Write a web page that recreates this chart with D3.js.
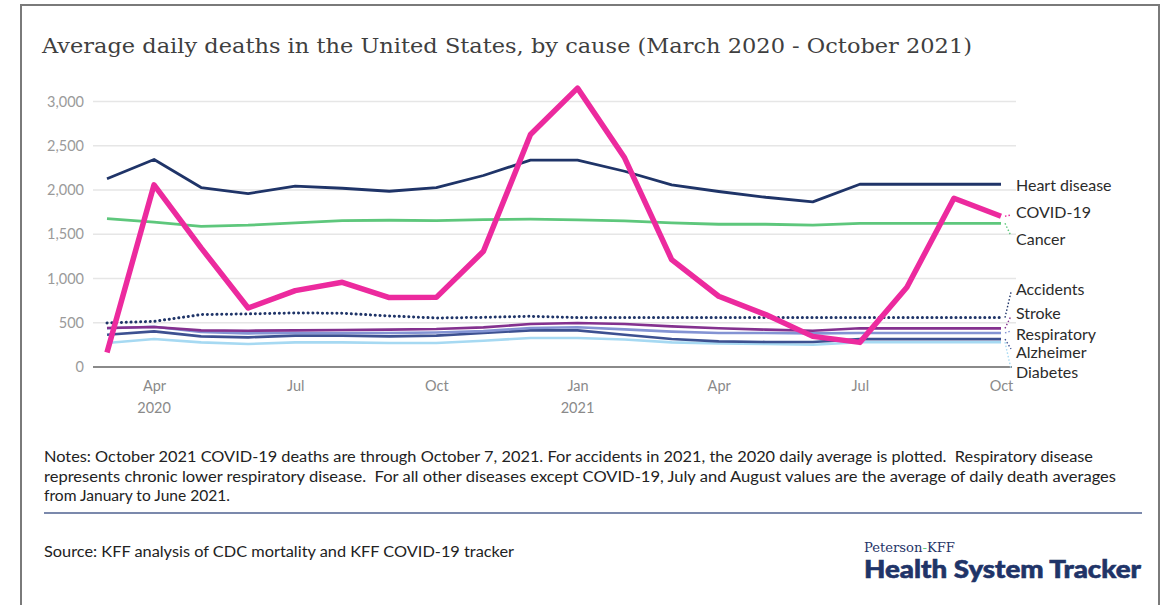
<!DOCTYPE html>
<html>
<head>
<meta charset="utf-8">
<script src="https://cdn.jsdelivr.net/npm/d3@7"></script>
<style>
  html, body { margin: 0; padding: 0; background: #fff; }
  svg { display: block; }
</style>
</head>
<body>
<svg id="chart" width="1170" height="605"></svg>
<script>
// Monthly averages, March 2020 through October 2021
const months = ["2020-03","2020-04","2020-05","2020-06","2020-07","2020-08","2020-09","2020-10","2020-11","2020-12",
                "2021-01","2021-02","2021-03","2021-04","2021-05","2021-06","2021-07","2021-08","2021-09","2021-10"];

const heartDisease = [2127, 2345, 2028, 1960, 2043, 2020, 1986, 2028, 2164, 2337, 2337, 2212, 2058, 1983, 1918, 1866, 2065, 2065, 2065, 2065];
const covid19      = [165, 2058, 1346, 667, 863, 957, 784, 787, 1307, 2627, 3151, 2364, 1214, 799, 592, 346, 278, 901, 1907, 1704];
const cancer       = [1677, 1636, 1590, 1602, 1629, 1655, 1658, 1655, 1666, 1670, 1663, 1651, 1629, 1613, 1613, 1602, 1624, 1624, 1624, 1624];
const accidents    = [498, 516, 592, 600, 611, 607, 577, 554, 561, 573, 558, 558, 558, 558, 558, 558, 558, 558, 558, 558];
const stroke       = [441, 452, 414, 410, 414, 418, 422, 429, 448, 486, 497, 486, 459, 437, 422, 410, 437, 437, 437, 437];
const respiratory  = [438, 455, 395, 380, 385, 385, 385, 390, 405, 440, 450, 425, 400, 385, 385, 380, 385, 385, 385, 385];
const alzheimer    = [365, 403, 346, 335, 354, 354, 346, 354, 384, 414, 414, 365, 316, 290, 283, 283, 315, 315, 315, 315];
const diabetes     = [271, 316, 278, 260, 278, 278, 271, 271, 297, 328, 328, 310, 278, 265, 260, 252, 280, 280, 280, 280];

const yTicks = [0, 500, 1000, 1500, 2000, 2500, 3000];
const xTickMonths = ["2020-04","2020-07","2020-10","2021-01","2021-04","2021-07","2021-10"];
const xTickLabels = ["Apr","Jul","Oct","Jan","Apr","Jul","Oct"];
const yearLabels = [{month: "2020-04", text: "2020"}, {month: "2021-01", text: "2021"}];

// Series styling and right-hand label placement
const series = [
  {name: "Diabetes",      values: diabetes,     color: "#a6d9f2", width: 2.6, labelY: 372},
  {name: "Alzheimer",     values: alzheimer,    color: "#3d5191", width: 2.6, labelY: 352},
  {name: "Respiratory",   values: respiratory,  color: "#8393d3", width: 2.6, labelY: 334},
  {name: "Stroke",        values: stroke,       color: "#84318f", width: 2.6, labelY: 313},
  {name: "Accidents",     values: accidents,    color: "#1f3468", width: 3,   labelY: 289, dotted: true},
  {name: "Cancer",        values: cancer,       color: "#5ec77c", width: 2.8, labelY: 239},
  {name: "Heart disease", values: heartDisease, color: "#1f3468", width: 2.8, labelY: 185, noLeader: true},
  {name: "COVID-19",      values: covid19,      color: "#ec2a9e", width: 5.5, labelY: 212}
];

const svg = d3.select("#chart");
const W = 1170, H = 605;

svg.append("rect").attr("width", W).attr("height", H).attr("fill", "#fff");

// outer frame
svg.append("rect")
  .attr("x", 21).attr("y", 5).attr("width", 1138).attr("height", 620)
  .attr("fill", "none").attr("stroke", "#7a7a7a").attr("stroke-width", 2);

// title
svg.append("text")
  .attr("x", 42).attr("y", 53)
  .attr("font-family", "DejaVu Serif, serif")
  .attr("font-size", 21)
  .attr("fill", "#3f3f3f")
  .attr("textLength", 930).attr("lengthAdjust", "spacingAndGlyphs")
  .text("Average daily deaths in the United States, by cause (March 2020 - October 2021)");

const x = d3.scalePoint().domain(months).range([107, 1001]);
const y = d3.scaleLinear().domain([0, 3000]).range([367, 101.5]);
const gridLeft = 93, gridRight = 1016;

// gridlines
svg.append("g").selectAll("line")
  .data(yTicks.filter(d => d > 0))
  .join("line")
  .attr("x1", gridLeft).attr("x2", gridRight)
  .attr("y1", d => y(d)).attr("y2", d => y(d))
  .attr("stroke", "#e6e6e6").attr("stroke-width", 1.5);

// y axis labels
const yAxis = d3.axisLeft(y).tickValues(yTicks).tickFormat(d3.format(",")).tickSize(0).tickPadding(9);
const gy = svg.append("g").attr("transform", `translate(${gridLeft},0)`).call(yAxis);
gy.select(".domain").remove();
gy.selectAll("text")
  .attr("font-family", "Lato, sans-serif").attr("font-size", 14.5).attr("fill", "#9a9a9a");

// x axis baseline and month labels
svg.append("line")
  .attr("x1", gridLeft).attr("x2", 1012)
  .attr("y1", y(0)).attr("y2", y(0))
  .attr("stroke", "#8a8a8a").attr("stroke-width", 2);

const xAxis = d3.axisBottom(x).tickValues(xTickMonths)
  .tickFormat((d, i) => xTickLabels[i]).tickSize(0).tickPadding(14);
const gx = svg.append("g").attr("transform", `translate(0,${y(0)})`).call(xAxis);
gx.select(".domain").remove();
gx.selectAll("text")
  .attr("font-family", "Lato, sans-serif").attr("font-size", 14.5).attr("fill", "#8a8a8a");

svg.append("g").selectAll("text")
  .data(yearLabels)
  .join("text")
  .attr("x", d => x(d.month)).attr("y", 413)
  .attr("text-anchor", "middle")
  .attr("font-family", "Lato, sans-serif").attr("font-size", 14.5).attr("fill", "#8a8a8a")
  .text(d => d.text);

// series lines
const line = d3.line().x((d, i) => x(months[i])).y(d => y(d));
const lines = svg.append("g");
series.forEach(s => {
  lines.append("path")
    .datum(s.values)
    .attr("d", line)
    .attr("fill", "none")
    .attr("stroke", s.color)
    .attr("stroke-width", s.width)
    .attr("stroke-linejoin", "round")
    .attr("stroke-linecap", s.dotted ? "round" : "butt")
    .attr("stroke-dasharray", s.dotted ? "0.1,4.7" : null);
});

// leaders and labels on the right
const lastX = x(months[months.length - 1]);
const labels = svg.append("g");
series.forEach(s => {
  const ly = y(s.values[s.values.length - 1]);
  if (!s.noLeader) {
    labels.append("line")
      .attr("x1", lastX + 4).attr("y1", ly)
      .attr("x2", lastX + 10).attr("y2", s.labelY + (s.labelY < ly ? 3 : -3))
      .attr("stroke", s.color).attr("stroke-width", 1.4)
      .attr("stroke-dasharray", "1.5,2");
  }
  labels.append("text")
    .attr("x", 1016).attr("y", s.labelY)
    .attr("dy", "0.35em")
    .attr("font-family", "Lato, sans-serif").attr("font-size", 16)
    .attr("fill", "#2b2b2b")
    .text(s.name);
});

// notes
const notes = [
  "Notes: October 2021 COVID-19 deaths are through October 7, 2021. For accidents in 2021, the 2020 daily average is plotted.  Respiratory disease",
  "represents chronic lower respiratory disease.  For all other diseases except COVID-19, July and August values are the average of daily death averages",
  "from January to June 2021."
];
const noteLengths = [1049, 1072, 186];
svg.append("g").selectAll("text")
  .data(notes)
  .join("text")
  .attr("x", 44).attr("y", (d, i) => 462 + i * 19.5)
  .attr("font-family", "Lato, sans-serif").attr("font-size", 14.5)
  .attr("fill", "#222")
  .attr("textLength", (d, i) => noteLengths[i]).attr("lengthAdjust", "spacingAndGlyphs")
  .style("white-space", "pre")
  .text(d => d);

svg.append("line")
  .attr("x1", 44).attr("x2", 1142).attr("y1", 513).attr("y2", 513)
  .attr("stroke", "#4f6291").attr("stroke-width", 1.5);

svg.append("text")
  .attr("x", 44).attr("y", 557)
  .attr("font-family", "Lato, sans-serif").attr("font-size", 14.5)
  .attr("fill", "#222")
  .attr("textLength", 470).attr("lengthAdjust", "spacingAndGlyphs")
  .text("Source: KFF analysis of CDC mortality and KFF COVID-19 tracker");

// logo
const logo = svg.append("g");
const pk = logo.append("text")
  .attr("x", 864).attr("y", 552)
  .attr("font-family", "DejaVu Serif, serif").attr("font-size", 12)
  .attr("fill", "#1f3468")
  .attr("textLength", 91).attr("lengthAdjust", "spacingAndGlyphs");
pk.append("tspan").text("Peterson");
pk.append("tspan").attr("fill", "#5ec77c").text("-");
pk.append("tspan").text("KFF");
logo.append("text")
  .attr("x", 864).attr("y", 578)
  .attr("font-family", "Lato, sans-serif").attr("font-size", 24).attr("font-weight", 900)
  .attr("fill", "#1f3468")
  .attr("stroke", "#1f3468").attr("stroke-width", 0.6)
  .attr("textLength", 277).attr("lengthAdjust", "spacingAndGlyphs")
  .text("Health System Tracker");
</script>
</body>
</html>
